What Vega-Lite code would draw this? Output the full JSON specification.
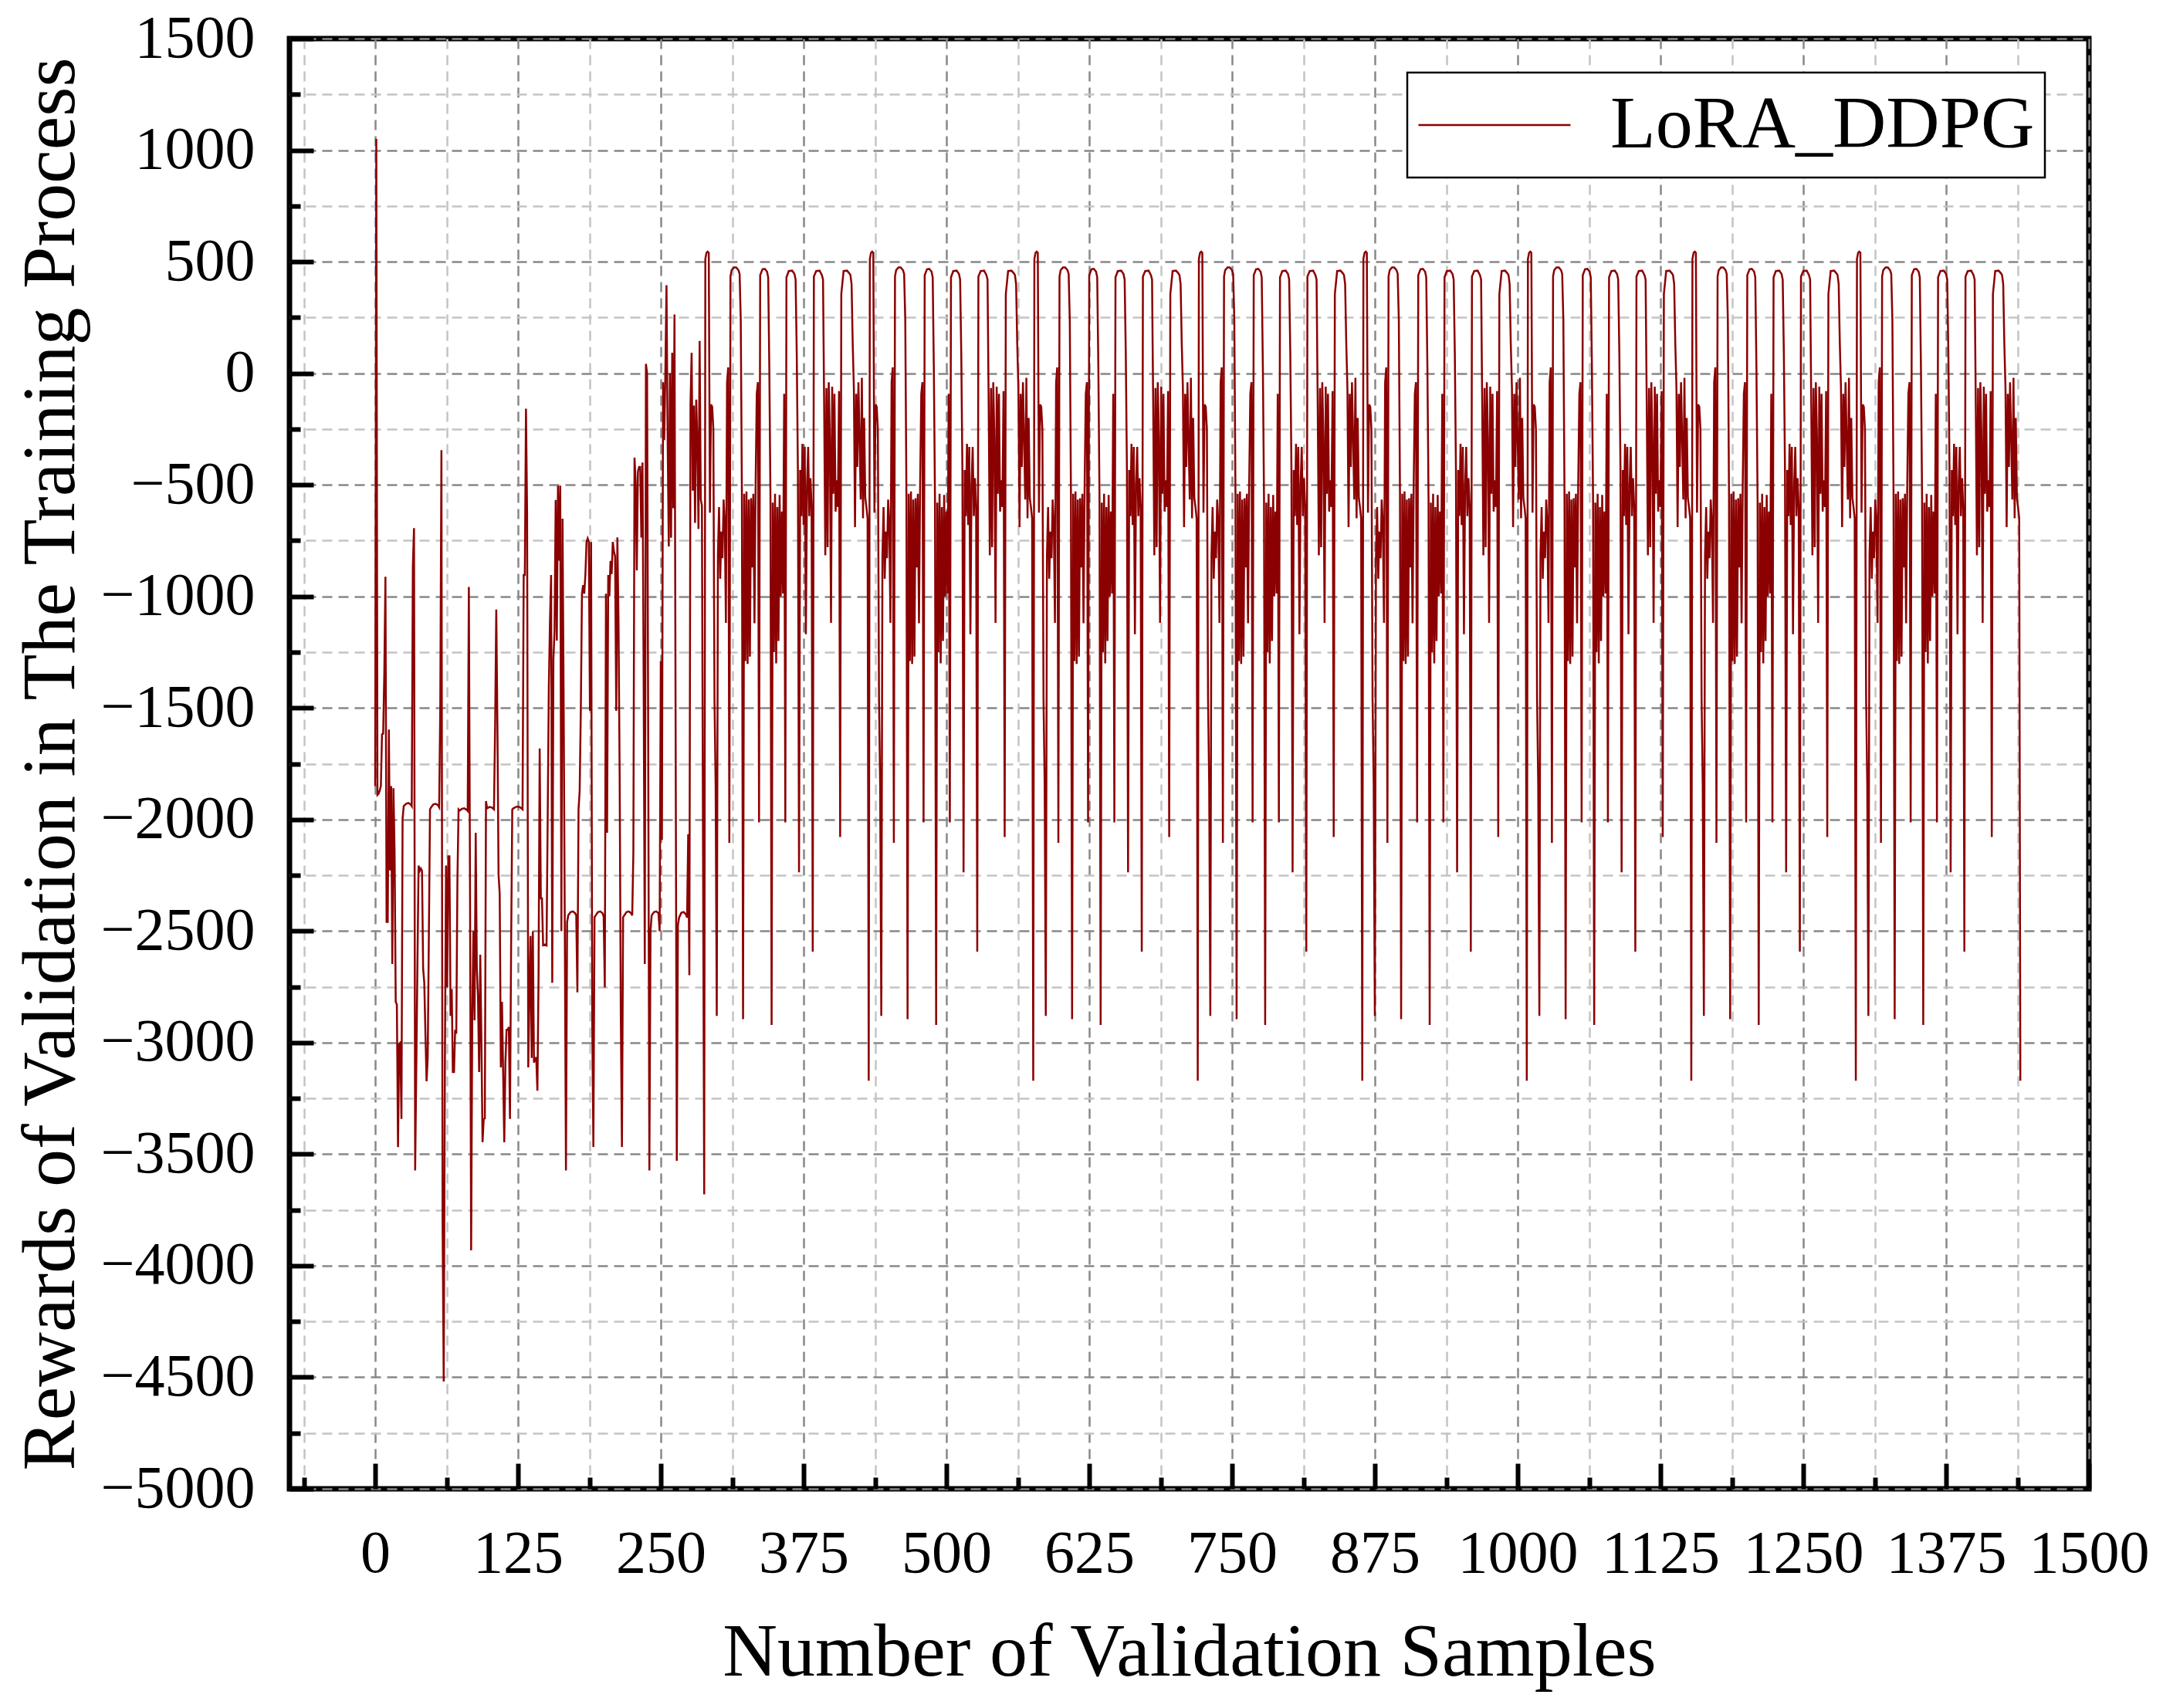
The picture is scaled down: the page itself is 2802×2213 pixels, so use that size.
{
  "$schema": "https://vega.github.io/schema/vega-lite/v6.json",
  "width": 2331,
  "height": 1879,
  "autosize": {"type": "none"},
  "padding": {"left": 375, "top": 50, "right": 96, "bottom": 284},
  "background": "white",
  "config": {
    "view": {"stroke": "black", "strokeWidth": 7},
    "axis": {
      "domain": false,
      "labelFont": "Liberation Serif",
      "labelFontSize": 78,
      "labelColor": "black",
      "labelLimit": 0,
      "titleFont": "Liberation Serif",
      "titleFontSize": 98,
      "titleFontWeight": "normal",
      "titleColor": "black",
      "tickColor": "black",
      "tickWidth": 6,
      "gridDash": [13, 8],
      "gridWidth": 2.5,
      "labelOverlap": false,
      "labelFlush": false
    },
    "legend": {"strokeWidth": 2.5}
  },
  "data": {
    "values": [
      {"n":0,"r":-1850},{"n":1,"r":1050},{"n":2,"r":-1890},{"n":3,"r":-1885},{"n":4,"r":-1870},{"n":5,"r":-1850},{"n":6,"r":-1618},{"n":7,"r":-1616},{"n":8,"r":-1345},{"n":9,"r":-912},{"n":10,"r":-2459},{"n":11,"r":-2459},{"n":12,"r":-1597},{"n":13,"r":-2228},{"n":14,"r":-1850},{"n":15,"r":-2648},{"n":16,"r":-1860},{"n":17,"r":-2144},{"n":18,"r":-2817},{"n":19,"r":-2830},{"n":20,"r":-3468},{"n":21,"r":-3006},{"n":22,"r":-3000},{"n":23,"r":-3342},{"n":24,"r":-1997},{"n":25,"r":-1940},{"n":27,"r":-1930},{"n":29,"r":-1926},{"n":31,"r":-1932},{"n":32,"r":-1940},{"n":33,"r":-862},{"n":34,"r":-694},{"n":35,"r":-3573},{"n":36,"r":-3110},{"n":37,"r":-2648},{"n":38,"r":-2207},{"n":39,"r":-2230},{"n":40,"r":-2220},{"n":41,"r":-2230},{"n":42,"r":-2670},{"n":43,"r":-2732},{"n":44,"r":-2963},{"n":45,"r":-3173},{"n":46,"r":-3069},{"n":47,"r":-2522},{"n":48,"r":-1955},{"n":49,"r":-1945},{"n":51,"r":-1932},{"n":53,"r":-1930},{"n":55,"r":-1936},{"n":56,"r":-1945},{"n":57,"r":-1492},{"n":58,"r":-345},{"n":59,"r":-3804},{"n":60,"r":-4519},{"n":61,"r":-3132},{"n":62,"r":-2207},{"n":63,"r":-2753},{"n":64,"r":-2165},{"n":65,"r":-2165},{"n":66,"r":-2880},{"n":67,"r":-2760},{"n":68,"r":-3132},{"n":69,"r":-3132},{"n":70,"r":-2943},{"n":71,"r":-2960},{"n":72,"r":-2270},{"n":73,"r":-1955},{"n":74,"r":-1960},{"n":76,"r":-1952},{"n":78,"r":-1950},{"n":80,"r":-1956},{"n":81,"r":-1962},{"n":82,"r":-958},{"n":83,"r":-2270},{"n":84,"r":-3931},{"n":85,"r":-2880},{"n":86,"r":-2501},{"n":87,"r":-2900},{"n":88,"r":-2060},{"n":89,"r":-2670},{"n":90,"r":-2796},{"n":91,"r":-3132},{"n":92,"r":-2606},{"n":93,"r":-3000},{"n":94,"r":-3447},{"n":95,"r":-3342},{"n":96,"r":-3340},{"n":97,"r":-1918},{"n":98,"r":-1950},{"n":100,"r":-1944},{"n":102,"r":-1946},{"n":104,"r":-1955},{"n":105,"r":-1576},{"n":106,"r":-1059},{"n":107,"r":-1576},{"n":108,"r":-2249},{"n":109,"r":-2333},{"n":110,"r":-3111},{"n":111,"r":-2817},{"n":112,"r":-3132},{"n":113,"r":-3447},{"n":114,"r":-3090},{"n":115,"r":-2943},{"n":116,"r":-2943},{"n":117,"r":-2930},{"n":118,"r":-3342},{"n":119,"r":-2564},{"n":120,"r":-1955},{"n":121,"r":-1950},{"n":123,"r":-1944},{"n":125,"r":-1942},{"n":127,"r":-1946},{"n":129,"r":-1955},{"n":130,"r":-904},{"n":131,"r":-904},{"n":132,"r":-159},{"n":133,"r":-631},{"n":134,"r":-3111},{"n":135,"r":-2800},{"n":136,"r":-2522},{"n":137,"r":-3069},{"n":138,"r":-2501},{"n":139,"r":-3090},{"n":140,"r":-3069},{"n":141,"r":-3069},{"n":142,"r":-3216},{"n":143,"r":-2711},{"n":144,"r":-1682},{"n":145,"r":-2354},{"n":146,"r":-2354},{"n":147,"r":-2564},{"n":149,"r":-2560},{"n":150,"r":-2564},{"n":151,"r":-1997},{"n":152,"r":-1408},{"n":153,"r":-1114},{"n":154,"r":-904},{"n":155,"r":-2732},{"n":156,"r":-1282},{"n":157,"r":-1156},{"n":158,"r":-568},{"n":159,"r":-1198},{"n":160,"r":-504},{"n":161,"r":-840},{"n":162,"r":-504},{"n":163,"r":-2501},{"n":164,"r":-652},{"n":165,"r":-1492},{"n":166,"r":-2501},{"n":167,"r":-3573},{"n":168,"r":-2460},{"n":169,"r":-2430},{"n":171,"r":-2415},{"n":173,"r":-2412},{"n":175,"r":-2420},{"n":176,"r":-2430},{"n":177,"r":-2775},{"n":178,"r":-1955},{"n":179,"r":-1871},{"n":180,"r":-1513},{"n":181,"r":-988},{"n":182,"r":-950},{"n":183,"r":-988},{"n":184,"r":-904},{"n":185,"r":-756},{"n":186,"r":-740},{"n":187,"r":-756},{"n":188,"r":-1513},{"n":189,"r":-756},{"n":190,"r":-2900},{"n":191,"r":-3468},{"n":192,"r":-2438},{"n":193,"r":-2430},{"n":195,"r":-2415},{"n":197,"r":-2412},{"n":199,"r":-2420},{"n":200,"r":-2435},{"n":201,"r":-2753},{"n":202,"r":-988},{"n":203,"r":-2060},{"n":204,"r":-904},{"n":205,"r":-1000},{"n":206,"r":-841},{"n":207,"r":-900},{"n":208,"r":-756},{"n":209,"r":-800},{"n":210,"r":-820},{"n":211,"r":-1513},{"n":212,"r":-736},{"n":213,"r":-1114},{"n":214,"r":-1808},{"n":215,"r":-2880},{"n":216,"r":-3468},{"n":217,"r":-2438},{"n":218,"r":-2430},{"n":220,"r":-2415},{"n":222,"r":-2412},{"n":224,"r":-2420},{"n":225,"r":-2430},{"n":226,"r":-2150},{"n":227,"r":-378},{"n":228,"r":-484},{"n":229,"r":-883},{"n":230,"r":-440},{"n":231,"r":-420},{"n":232,"r":-420},{"n":233,"r":-736},{"n":234,"r":-400},{"n":235,"r":-1366},{"n":236,"r":-2648},{"n":237,"r":42},{"n":238,"r":0},{"n":239,"r":-1660},{"n":240,"r":-3573},{"n":241,"r":-2501},{"n":242,"r":-2430},{"n":244,"r":-2415},{"n":246,"r":-2412},{"n":248,"r":-2420},{"n":249,"r":-2501},{"n":250,"r":-1290},{"n":251,"r":-2092},{"n":252,"r":-40},{"n":253,"r":-300},{"n":254,"r":0},{"n":255,"r":395},{"n":256,"r":-300},{"n":257,"r":-776},{"n":258,"r":0},{"n":259,"r":-737},{"n":260,"r":92},{"n":261,"r":-605},{"n":262,"r":263},{"n":263,"r":-1618},{"n":264,"r":-3530},{"n":265,"r":-2474},{"n":266,"r":-2440},{"n":268,"r":-2418},{"n":270,"r":-2415},{"n":272,"r":-2425},{"n":273,"r":-2440},{"n":274,"r":-2066},{"n":275,"r":-2698},{"n":276,"r":-145},{"n":277,"r":92},{"n":278,"r":-526},{"n":279,"r":-145},{"n":280,"r":-671},{"n":281,"r":-118},{"n":282,"r":-303},{"n":283,"r":-698},{"n":284,"r":145},{"n":285,"r":-566},{"n":286,"r":-592},{"n":287,"r":-2170},
      {"n":288,"r":-3680},{"n":289,"r":513},{"n":290,"r":540},{"n":291,"r":545},{"n":292,"r":540},{"n":293,"r":-625},{"n":294,"r":-140},{"n":295,"r":-150},{"n":296,"r":-250},{"n":297,"r":-1460},{"n":298,"r":-1842},{"n":299,"r":-2880},{"n":300,"r":-816},{"n":301,"r":-600},{"n":302,"r":-921},{"n":303,"r":-710},{"n":304,"r":-829},{"n":305,"r":-566},{"n":306,"r":-671},{"n":307,"r":-1119},{"n":308,"r":-40},{"n":309,"r":26},{"n":310,"r":-2105},{"n":311,"r":434},{"n":312,"r":462},{"n":314,"r":474},{"n":316,"r":474},{"n":318,"r":462},{"n":319,"r":445},{"n":320,"r":237},{"n":321,"r":-540},{"n":322,"r":-2895},{"n":323,"r":-540},{"n":324,"r":-1290},{"n":325,"r":-530},{"n":326,"r":-1303},{"n":327,"r":-566},{"n":328,"r":-1270},{"n":329,"r":-560},{"n":330,"r":-870},{"n":331,"r":-540},{"n":332,"r":-1120},{"n":333,"r":-500},{"n":334,"r":-92},{"n":335,"r":-40},{"n":336,"r":-2013},{"n":337,"r":440},{"n":339,"r":466},{"n":341,"r":468},{"n":343,"r":455},{"n":344,"r":430},{"n":345,"r":26},{"n":346,"r":-566},{"n":347,"r":-2921},{"n":348,"r":-580},{"n":349,"r":-1250},{"n":350,"r":-540},{"n":351,"r":-1300},{"n":352,"r":-600},{"n":353,"r":-1200},{"n":354,"r":-545},{"n":355,"r":-1000},{"n":356,"r":-620},{"n":357,"r":-987},{"n":358,"r":-92},{"n":359,"r":-2013},{"n":360,"r":430},{"n":362,"r":458},{"n":365,"r":460},{"n":367,"r":445},{"n":368,"r":420},{"n":369,"r":92},{"n":370,"r":-434},{"n":371,"r":-2237},{"n":372,"r":-434},{"n":373,"r":-640},{"n":374,"r":-316},{"n":375,"r":-680},{"n":376,"r":-330},{"n":377,"r":-1170},{"n":378,"r":-500},{"n":379,"r":-330},{"n":380,"r":-640},{"n":381,"r":-470},{"n":382,"r":-600},{"n":383,"r":-2592},{"n":384,"r":434},{"n":386,"r":458},{"n":389,"r":460},{"n":391,"r":440},{"n":392,"r":420},{"n":393,"r":-145},{"n":394,"r":-816},{"n":395,"r":-66},{"n":396,"r":-780},{"n":397,"r":-40},{"n":398,"r":-290},{"n":399,"r":-1119},{"n":400,"r":-60},{"n":401,"r":-540},{"n":402,"r":-92},{"n":403,"r":-620},{"n":404,"r":-480},{"n":405,"r":-600},{"n":406,"r":-80},{"n":407,"r":-2079},{"n":408,"r":355},{"n":410,"r":458},{"n":413,"r":460},{"n":415,"r":448},{"n":416,"r":440},{"n":417,"r":400},{"n":418,"r":131},{"n":419,"r":-66},{"n":420,"r":-690},{"n":421,"r":-92},{"n":422,"r":-420},{"n":423,"r":-40},{"n":424,"r":-300},{"n":425,"r":-566},{"n":426,"r":-20},{"n":427,"r":-650},{"n":428,"r":-200},{"n":429,"r":-560},{"n":430,"r":-600},{"n":431,"r":-650},
      {"n":432,"r":-3171},{"n":433,"r":513},{"n":434,"r":540},{"n":435,"r":545},{"n":436,"r":540},{"n":437,"r":-625},{"n":438,"r":-140},{"n":439,"r":-150},{"n":440,"r":-250},{"n":441,"r":-1460},{"n":442,"r":-1842},{"n":443,"r":-2880},{"n":444,"r":-816},{"n":445,"r":-600},{"n":446,"r":-921},{"n":447,"r":-710},{"n":448,"r":-829},{"n":449,"r":-566},{"n":450,"r":-671},{"n":451,"r":-1119},{"n":452,"r":-40},{"n":453,"r":26},{"n":454,"r":-2105},{"n":455,"r":434},{"n":456,"r":462},{"n":458,"r":474},{"n":460,"r":474},{"n":462,"r":462},{"n":463,"r":445},{"n":464,"r":237},{"n":465,"r":-540},{"n":466,"r":-2895},{"n":467,"r":-540},{"n":468,"r":-1290},{"n":469,"r":-530},{"n":470,"r":-1303},{"n":471,"r":-566},{"n":472,"r":-1270},{"n":473,"r":-560},{"n":474,"r":-870},{"n":475,"r":-540},{"n":476,"r":-1120},{"n":477,"r":-500},{"n":478,"r":-92},{"n":479,"r":-40},{"n":480,"r":-2013},{"n":481,"r":440},{"n":483,"r":466},{"n":485,"r":468},{"n":487,"r":455},{"n":488,"r":430},{"n":489,"r":26},{"n":490,"r":-566},{"n":491,"r":-2921},{"n":492,"r":-580},{"n":493,"r":-1250},{"n":494,"r":-540},{"n":495,"r":-1300},{"n":496,"r":-600},{"n":497,"r":-1200},{"n":498,"r":-545},{"n":499,"r":-1000},{"n":500,"r":-620},{"n":501,"r":-987},{"n":502,"r":-92},{"n":503,"r":-2013},{"n":504,"r":430},{"n":506,"r":458},{"n":509,"r":460},{"n":511,"r":445},{"n":512,"r":420},{"n":513,"r":92},{"n":514,"r":-434},{"n":515,"r":-2237},{"n":516,"r":-434},{"n":517,"r":-640},{"n":518,"r":-316},{"n":519,"r":-680},{"n":520,"r":-330},{"n":521,"r":-1170},{"n":522,"r":-500},{"n":523,"r":-330},{"n":524,"r":-640},{"n":525,"r":-470},{"n":526,"r":-600},{"n":527,"r":-2592},{"n":528,"r":434},{"n":530,"r":458},{"n":533,"r":460},{"n":535,"r":440},{"n":536,"r":420},{"n":537,"r":-145},{"n":538,"r":-816},{"n":539,"r":-66},{"n":540,"r":-780},{"n":541,"r":-40},{"n":542,"r":-290},{"n":543,"r":-1119},{"n":544,"r":-60},{"n":545,"r":-540},{"n":546,"r":-92},{"n":547,"r":-620},{"n":548,"r":-480},{"n":549,"r":-600},{"n":550,"r":-80},{"n":551,"r":-2079},{"n":552,"r":355},{"n":554,"r":458},{"n":557,"r":460},{"n":559,"r":448},{"n":560,"r":440},{"n":561,"r":400},{"n":562,"r":131},{"n":563,"r":-66},{"n":564,"r":-690},{"n":565,"r":-92},{"n":566,"r":-420},{"n":567,"r":-40},{"n":568,"r":-300},{"n":569,"r":-566},{"n":570,"r":-20},{"n":571,"r":-650},{"n":572,"r":-200},{"n":573,"r":-560},{"n":574,"r":-600},{"n":575,"r":-650},
      {"n":576,"r":-3171},{"n":577,"r":513},{"n":578,"r":540},{"n":579,"r":545},{"n":580,"r":540},{"n":581,"r":-625},{"n":582,"r":-140},{"n":583,"r":-150},{"n":584,"r":-250},{"n":585,"r":-1460},{"n":586,"r":-1842},{"n":587,"r":-2880},{"n":588,"r":-816},{"n":589,"r":-600},{"n":590,"r":-921},{"n":591,"r":-710},{"n":592,"r":-829},{"n":593,"r":-566},{"n":594,"r":-671},{"n":595,"r":-1119},{"n":596,"r":-40},{"n":597,"r":26},{"n":598,"r":-2105},{"n":599,"r":434},{"n":600,"r":462},{"n":602,"r":474},{"n":604,"r":474},{"n":606,"r":462},{"n":607,"r":445},{"n":608,"r":237},{"n":609,"r":-540},{"n":610,"r":-2895},{"n":611,"r":-540},{"n":612,"r":-1290},{"n":613,"r":-530},{"n":614,"r":-1303},{"n":615,"r":-566},{"n":616,"r":-1270},{"n":617,"r":-560},{"n":618,"r":-870},{"n":619,"r":-540},{"n":620,"r":-1120},{"n":621,"r":-500},{"n":622,"r":-92},{"n":623,"r":-40},{"n":624,"r":-2013},{"n":625,"r":440},{"n":627,"r":466},{"n":629,"r":468},{"n":631,"r":455},{"n":632,"r":430},{"n":633,"r":26},{"n":634,"r":-566},{"n":635,"r":-2921},{"n":636,"r":-580},{"n":637,"r":-1250},{"n":638,"r":-540},{"n":639,"r":-1300},{"n":640,"r":-600},{"n":641,"r":-1200},{"n":642,"r":-545},{"n":643,"r":-1000},{"n":644,"r":-620},{"n":645,"r":-987},{"n":646,"r":-92},{"n":647,"r":-2013},{"n":648,"r":430},{"n":650,"r":458},{"n":653,"r":460},{"n":655,"r":445},{"n":656,"r":420},{"n":657,"r":92},{"n":658,"r":-434},{"n":659,"r":-2237},{"n":660,"r":-434},{"n":661,"r":-640},{"n":662,"r":-316},{"n":663,"r":-680},{"n":664,"r":-330},{"n":665,"r":-1170},{"n":666,"r":-500},{"n":667,"r":-330},{"n":668,"r":-640},{"n":669,"r":-470},{"n":670,"r":-600},{"n":671,"r":-2592},{"n":672,"r":434},{"n":674,"r":458},{"n":677,"r":460},{"n":679,"r":440},{"n":680,"r":420},{"n":681,"r":-145},{"n":682,"r":-816},{"n":683,"r":-66},{"n":684,"r":-780},{"n":685,"r":-40},{"n":686,"r":-290},{"n":687,"r":-1119},{"n":688,"r":-60},{"n":689,"r":-540},{"n":690,"r":-92},{"n":691,"r":-620},{"n":692,"r":-480},{"n":693,"r":-600},{"n":694,"r":-80},{"n":695,"r":-2079},{"n":696,"r":355},{"n":698,"r":458},{"n":701,"r":460},{"n":703,"r":448},{"n":704,"r":440},{"n":705,"r":400},{"n":706,"r":131},{"n":707,"r":-66},{"n":708,"r":-690},{"n":709,"r":-92},{"n":710,"r":-420},{"n":711,"r":-40},{"n":712,"r":-300},{"n":713,"r":-566},{"n":714,"r":-20},{"n":715,"r":-650},{"n":716,"r":-200},{"n":717,"r":-560},{"n":718,"r":-600},{"n":719,"r":-650},
      {"n":720,"r":-3171},{"n":721,"r":513},{"n":722,"r":540},{"n":723,"r":545},{"n":724,"r":540},{"n":725,"r":-625},{"n":726,"r":-140},{"n":727,"r":-150},{"n":728,"r":-250},{"n":729,"r":-1460},{"n":730,"r":-1842},{"n":731,"r":-2880},{"n":732,"r":-816},{"n":733,"r":-600},{"n":734,"r":-921},{"n":735,"r":-710},{"n":736,"r":-829},{"n":737,"r":-566},{"n":738,"r":-671},{"n":739,"r":-1119},{"n":740,"r":-40},{"n":741,"r":26},{"n":742,"r":-2105},{"n":743,"r":434},{"n":744,"r":462},{"n":746,"r":474},{"n":748,"r":474},{"n":750,"r":462},{"n":751,"r":445},{"n":752,"r":237},{"n":753,"r":-540},{"n":754,"r":-2895},{"n":755,"r":-540},{"n":756,"r":-1290},{"n":757,"r":-530},{"n":758,"r":-1303},{"n":759,"r":-566},{"n":760,"r":-1270},{"n":761,"r":-560},{"n":762,"r":-870},{"n":763,"r":-540},{"n":764,"r":-1120},{"n":765,"r":-500},{"n":766,"r":-92},{"n":767,"r":-40},{"n":768,"r":-2013},{"n":769,"r":440},{"n":771,"r":466},{"n":773,"r":468},{"n":775,"r":455},{"n":776,"r":430},{"n":777,"r":26},{"n":778,"r":-566},{"n":779,"r":-2921},{"n":780,"r":-580},{"n":781,"r":-1250},{"n":782,"r":-540},{"n":783,"r":-1300},{"n":784,"r":-600},{"n":785,"r":-1200},{"n":786,"r":-545},{"n":787,"r":-1000},{"n":788,"r":-620},{"n":789,"r":-987},{"n":790,"r":-92},{"n":791,"r":-2013},{"n":792,"r":430},{"n":794,"r":458},{"n":797,"r":460},{"n":799,"r":445},{"n":800,"r":420},{"n":801,"r":92},{"n":802,"r":-434},{"n":803,"r":-2237},{"n":804,"r":-434},{"n":805,"r":-640},{"n":806,"r":-316},{"n":807,"r":-680},{"n":808,"r":-330},{"n":809,"r":-1170},{"n":810,"r":-500},{"n":811,"r":-330},{"n":812,"r":-640},{"n":813,"r":-470},{"n":814,"r":-600},{"n":815,"r":-2592},{"n":816,"r":434},{"n":818,"r":458},{"n":821,"r":460},{"n":823,"r":440},{"n":824,"r":420},{"n":825,"r":-145},{"n":826,"r":-816},{"n":827,"r":-66},{"n":828,"r":-780},{"n":829,"r":-40},{"n":830,"r":-290},{"n":831,"r":-1119},{"n":832,"r":-60},{"n":833,"r":-540},{"n":834,"r":-92},{"n":835,"r":-620},{"n":836,"r":-480},{"n":837,"r":-600},{"n":838,"r":-80},{"n":839,"r":-2079},{"n":840,"r":355},{"n":842,"r":458},{"n":845,"r":460},{"n":847,"r":448},{"n":848,"r":440},{"n":849,"r":400},{"n":850,"r":131},{"n":851,"r":-66},{"n":852,"r":-690},{"n":853,"r":-92},{"n":854,"r":-420},{"n":855,"r":-40},{"n":856,"r":-300},{"n":857,"r":-566},{"n":858,"r":-20},{"n":859,"r":-650},{"n":860,"r":-200},{"n":861,"r":-560},{"n":862,"r":-600},{"n":863,"r":-650},
      {"n":864,"r":-3171},{"n":865,"r":513},{"n":866,"r":540},{"n":867,"r":545},{"n":868,"r":540},{"n":869,"r":-625},{"n":870,"r":-140},{"n":871,"r":-150},{"n":872,"r":-250},{"n":873,"r":-1460},{"n":874,"r":-1842},{"n":875,"r":-2880},{"n":876,"r":-816},{"n":877,"r":-600},{"n":878,"r":-921},{"n":879,"r":-710},{"n":880,"r":-829},{"n":881,"r":-566},{"n":882,"r":-671},{"n":883,"r":-1119},{"n":884,"r":-40},{"n":885,"r":26},{"n":886,"r":-2105},{"n":887,"r":434},{"n":888,"r":462},{"n":890,"r":474},{"n":892,"r":474},{"n":894,"r":462},{"n":895,"r":445},{"n":896,"r":237},{"n":897,"r":-540},{"n":898,"r":-2895},{"n":899,"r":-540},{"n":900,"r":-1290},{"n":901,"r":-530},{"n":902,"r":-1303},{"n":903,"r":-566},{"n":904,"r":-1270},{"n":905,"r":-560},{"n":906,"r":-870},{"n":907,"r":-540},{"n":908,"r":-1120},{"n":909,"r":-500},{"n":910,"r":-92},{"n":911,"r":-40},{"n":912,"r":-2013},{"n":913,"r":440},{"n":915,"r":466},{"n":917,"r":468},{"n":919,"r":455},{"n":920,"r":430},{"n":921,"r":26},{"n":922,"r":-566},{"n":923,"r":-2921},{"n":924,"r":-580},{"n":925,"r":-1250},{"n":926,"r":-540},{"n":927,"r":-1300},{"n":928,"r":-600},{"n":929,"r":-1200},{"n":930,"r":-545},{"n":931,"r":-1000},{"n":932,"r":-620},{"n":933,"r":-987},{"n":934,"r":-92},{"n":935,"r":-2013},{"n":936,"r":430},{"n":938,"r":458},{"n":941,"r":460},{"n":943,"r":445},{"n":944,"r":420},{"n":945,"r":92},{"n":946,"r":-434},{"n":947,"r":-2237},{"n":948,"r":-434},{"n":949,"r":-640},{"n":950,"r":-316},{"n":951,"r":-680},{"n":952,"r":-330},{"n":953,"r":-1170},{"n":954,"r":-500},{"n":955,"r":-330},{"n":956,"r":-640},{"n":957,"r":-470},{"n":958,"r":-600},{"n":959,"r":-2592},{"n":960,"r":434},{"n":962,"r":458},{"n":965,"r":460},{"n":967,"r":440},{"n":968,"r":420},{"n":969,"r":-145},{"n":970,"r":-816},{"n":971,"r":-66},{"n":972,"r":-780},{"n":973,"r":-40},{"n":974,"r":-290},{"n":975,"r":-1119},{"n":976,"r":-60},{"n":977,"r":-540},{"n":978,"r":-92},{"n":979,"r":-620},{"n":980,"r":-480},{"n":981,"r":-600},{"n":982,"r":-80},{"n":983,"r":-2079},{"n":984,"r":355},{"n":986,"r":458},{"n":989,"r":460},{"n":991,"r":448},{"n":992,"r":440},{"n":993,"r":400},{"n":994,"r":131},{"n":995,"r":-66},{"n":996,"r":-690},{"n":997,"r":-92},{"n":998,"r":-420},{"n":999,"r":-40},{"n":1000,"r":-300},{"n":1001,"r":-566},{"n":1002,"r":-20},{"n":1003,"r":-650},{"n":1004,"r":-200},{"n":1005,"r":-560},{"n":1006,"r":-600},{"n":1007,"r":-650},
      {"n":1008,"r":-3171},{"n":1009,"r":513},{"n":1010,"r":540},{"n":1011,"r":545},{"n":1012,"r":540},{"n":1013,"r":-625},{"n":1014,"r":-140},{"n":1015,"r":-150},{"n":1016,"r":-250},{"n":1017,"r":-1460},{"n":1018,"r":-1842},{"n":1019,"r":-2880},{"n":1020,"r":-816},{"n":1021,"r":-600},{"n":1022,"r":-921},{"n":1023,"r":-710},{"n":1024,"r":-829},{"n":1025,"r":-566},{"n":1026,"r":-671},{"n":1027,"r":-1119},{"n":1028,"r":-40},{"n":1029,"r":26},{"n":1030,"r":-2105},{"n":1031,"r":434},{"n":1032,"r":462},{"n":1034,"r":474},{"n":1036,"r":474},{"n":1038,"r":462},{"n":1039,"r":445},{"n":1040,"r":237},{"n":1041,"r":-540},{"n":1042,"r":-2895},{"n":1043,"r":-540},{"n":1044,"r":-1290},{"n":1045,"r":-530},{"n":1046,"r":-1303},{"n":1047,"r":-566},{"n":1048,"r":-1270},{"n":1049,"r":-560},{"n":1050,"r":-870},{"n":1051,"r":-540},{"n":1052,"r":-1120},{"n":1053,"r":-500},{"n":1054,"r":-92},{"n":1055,"r":-40},{"n":1056,"r":-2013},{"n":1057,"r":440},{"n":1059,"r":466},{"n":1061,"r":468},{"n":1063,"r":455},{"n":1064,"r":430},{"n":1065,"r":26},{"n":1066,"r":-566},{"n":1067,"r":-2921},{"n":1068,"r":-580},{"n":1069,"r":-1250},{"n":1070,"r":-540},{"n":1071,"r":-1300},{"n":1072,"r":-600},{"n":1073,"r":-1200},{"n":1074,"r":-545},{"n":1075,"r":-1000},{"n":1076,"r":-620},{"n":1077,"r":-987},{"n":1078,"r":-92},{"n":1079,"r":-2013},{"n":1080,"r":430},{"n":1082,"r":458},{"n":1085,"r":460},{"n":1087,"r":445},{"n":1088,"r":420},{"n":1089,"r":92},{"n":1090,"r":-434},{"n":1091,"r":-2237},{"n":1092,"r":-434},{"n":1093,"r":-640},{"n":1094,"r":-316},{"n":1095,"r":-680},{"n":1096,"r":-330},{"n":1097,"r":-1170},{"n":1098,"r":-500},{"n":1099,"r":-330},{"n":1100,"r":-640},{"n":1101,"r":-470},{"n":1102,"r":-600},{"n":1103,"r":-2592},{"n":1104,"r":434},{"n":1106,"r":458},{"n":1109,"r":460},{"n":1111,"r":440},{"n":1112,"r":420},{"n":1113,"r":-145},{"n":1114,"r":-816},{"n":1115,"r":-66},{"n":1116,"r":-780},{"n":1117,"r":-40},{"n":1118,"r":-290},{"n":1119,"r":-1119},{"n":1120,"r":-60},{"n":1121,"r":-540},{"n":1122,"r":-92},{"n":1123,"r":-620},{"n":1124,"r":-480},{"n":1125,"r":-600},{"n":1126,"r":-80},{"n":1127,"r":-2079},{"n":1128,"r":355},{"n":1130,"r":458},{"n":1133,"r":460},{"n":1135,"r":448},{"n":1136,"r":440},{"n":1137,"r":400},{"n":1138,"r":131},{"n":1139,"r":-66},{"n":1140,"r":-690},{"n":1141,"r":-92},{"n":1142,"r":-420},{"n":1143,"r":-40},{"n":1144,"r":-300},{"n":1145,"r":-566},{"n":1146,"r":-20},{"n":1147,"r":-650},{"n":1148,"r":-200},{"n":1149,"r":-560},{"n":1150,"r":-600},{"n":1151,"r":-650},
      {"n":1152,"r":-3171},{"n":1153,"r":513},{"n":1154,"r":540},{"n":1155,"r":545},{"n":1156,"r":540},{"n":1157,"r":-625},{"n":1158,"r":-140},{"n":1159,"r":-150},{"n":1160,"r":-250},{"n":1161,"r":-1460},{"n":1162,"r":-1842},{"n":1163,"r":-2880},{"n":1164,"r":-816},{"n":1165,"r":-600},{"n":1166,"r":-921},{"n":1167,"r":-710},{"n":1168,"r":-829},{"n":1169,"r":-566},{"n":1170,"r":-671},{"n":1171,"r":-1119},{"n":1172,"r":-40},{"n":1173,"r":26},{"n":1174,"r":-2105},{"n":1175,"r":434},{"n":1176,"r":462},{"n":1178,"r":474},{"n":1180,"r":474},{"n":1182,"r":462},{"n":1183,"r":445},{"n":1184,"r":237},{"n":1185,"r":-540},{"n":1186,"r":-2895},{"n":1187,"r":-540},{"n":1188,"r":-1290},{"n":1189,"r":-530},{"n":1190,"r":-1303},{"n":1191,"r":-566},{"n":1192,"r":-1270},{"n":1193,"r":-560},{"n":1194,"r":-870},{"n":1195,"r":-540},{"n":1196,"r":-1120},{"n":1197,"r":-500},{"n":1198,"r":-92},{"n":1199,"r":-40},{"n":1200,"r":-2013},{"n":1201,"r":440},{"n":1203,"r":466},{"n":1205,"r":468},{"n":1207,"r":455},{"n":1208,"r":430},{"n":1209,"r":26},{"n":1210,"r":-566},{"n":1211,"r":-2921},{"n":1212,"r":-580},{"n":1213,"r":-1250},{"n":1214,"r":-540},{"n":1215,"r":-1300},{"n":1216,"r":-600},{"n":1217,"r":-1200},{"n":1218,"r":-545},{"n":1219,"r":-1000},{"n":1220,"r":-620},{"n":1221,"r":-987},{"n":1222,"r":-92},{"n":1223,"r":-2013},{"n":1224,"r":430},{"n":1226,"r":458},{"n":1229,"r":460},{"n":1231,"r":445},{"n":1232,"r":420},{"n":1233,"r":92},{"n":1234,"r":-434},{"n":1235,"r":-2237},{"n":1236,"r":-434},{"n":1237,"r":-640},{"n":1238,"r":-316},{"n":1239,"r":-680},{"n":1240,"r":-330},{"n":1241,"r":-1170},{"n":1242,"r":-500},{"n":1243,"r":-330},{"n":1244,"r":-640},{"n":1245,"r":-470},{"n":1246,"r":-600},{"n":1247,"r":-2592},{"n":1248,"r":434},{"n":1250,"r":458},{"n":1253,"r":460},{"n":1255,"r":440},{"n":1256,"r":420},{"n":1257,"r":-145},{"n":1258,"r":-816},{"n":1259,"r":-66},{"n":1260,"r":-780},{"n":1261,"r":-40},{"n":1262,"r":-290},{"n":1263,"r":-1119},{"n":1264,"r":-60},{"n":1265,"r":-540},{"n":1266,"r":-92},{"n":1267,"r":-620},{"n":1268,"r":-480},{"n":1269,"r":-600},{"n":1270,"r":-80},{"n":1271,"r":-2079},{"n":1272,"r":355},{"n":1274,"r":458},{"n":1277,"r":460},{"n":1279,"r":448},{"n":1280,"r":440},{"n":1281,"r":400},{"n":1282,"r":131},{"n":1283,"r":-66},{"n":1284,"r":-690},{"n":1285,"r":-92},{"n":1286,"r":-420},{"n":1287,"r":-40},{"n":1288,"r":-300},{"n":1289,"r":-566},{"n":1290,"r":-20},{"n":1291,"r":-650},{"n":1292,"r":-200},{"n":1293,"r":-560},{"n":1294,"r":-600},{"n":1295,"r":-650},
      {"n":1296,"r":-3171},{"n":1297,"r":513},{"n":1298,"r":540},{"n":1299,"r":545},{"n":1300,"r":540},{"n":1301,"r":-625},{"n":1302,"r":-140},{"n":1303,"r":-150},{"n":1304,"r":-250},{"n":1305,"r":-1460},{"n":1306,"r":-1842},{"n":1307,"r":-2880},{"n":1308,"r":-816},{"n":1309,"r":-600},{"n":1310,"r":-921},{"n":1311,"r":-710},{"n":1312,"r":-829},{"n":1313,"r":-566},{"n":1314,"r":-671},{"n":1315,"r":-1119},{"n":1316,"r":-40},{"n":1317,"r":26},{"n":1318,"r":-2105},{"n":1319,"r":434},{"n":1320,"r":462},{"n":1322,"r":474},{"n":1324,"r":474},{"n":1326,"r":462},{"n":1327,"r":445},{"n":1328,"r":237},{"n":1329,"r":-540},{"n":1330,"r":-2895},{"n":1331,"r":-540},{"n":1332,"r":-1290},{"n":1333,"r":-530},{"n":1334,"r":-1303},{"n":1335,"r":-566},{"n":1336,"r":-1270},{"n":1337,"r":-560},{"n":1338,"r":-870},{"n":1339,"r":-540},{"n":1340,"r":-1120},{"n":1341,"r":-500},{"n":1342,"r":-92},{"n":1343,"r":-40},{"n":1344,"r":-2013},{"n":1345,"r":440},{"n":1347,"r":466},{"n":1349,"r":468},{"n":1351,"r":455},{"n":1352,"r":430},{"n":1353,"r":26},{"n":1354,"r":-566},{"n":1355,"r":-2921},{"n":1356,"r":-580},{"n":1357,"r":-1250},{"n":1358,"r":-540},{"n":1359,"r":-1300},{"n":1360,"r":-600},{"n":1361,"r":-1200},{"n":1362,"r":-545},{"n":1363,"r":-1000},{"n":1364,"r":-620},{"n":1365,"r":-987},{"n":1366,"r":-92},{"n":1367,"r":-2013},{"n":1368,"r":430},{"n":1370,"r":458},{"n":1373,"r":460},{"n":1375,"r":445},{"n":1376,"r":420},{"n":1377,"r":92},{"n":1378,"r":-434},{"n":1379,"r":-2237},{"n":1380,"r":-434},{"n":1381,"r":-640},{"n":1382,"r":-316},{"n":1383,"r":-680},{"n":1384,"r":-330},{"n":1385,"r":-1170},{"n":1386,"r":-500},{"n":1387,"r":-330},{"n":1388,"r":-640},{"n":1389,"r":-470},{"n":1390,"r":-600},{"n":1391,"r":-2592},{"n":1392,"r":434},{"n":1394,"r":458},{"n":1397,"r":460},{"n":1399,"r":440},{"n":1400,"r":420},{"n":1401,"r":-145},{"n":1402,"r":-816},{"n":1403,"r":-66},{"n":1404,"r":-780},{"n":1405,"r":-40},{"n":1406,"r":-290},{"n":1407,"r":-1119},{"n":1408,"r":-60},{"n":1409,"r":-540},{"n":1410,"r":-92},{"n":1411,"r":-620},{"n":1412,"r":-480},{"n":1413,"r":-600},{"n":1414,"r":-80},{"n":1415,"r":-2079},{"n":1416,"r":355},{"n":1418,"r":458},{"n":1421,"r":460},{"n":1423,"r":448},{"n":1424,"r":440},{"n":1425,"r":400},{"n":1426,"r":131},{"n":1427,"r":-66},{"n":1428,"r":-690},{"n":1429,"r":-92},{"n":1430,"r":-420},{"n":1431,"r":-40},{"n":1432,"r":-300},{"n":1433,"r":-566},{"n":1434,"r":-20},{"n":1435,"r":-650},{"n":1436,"r":-200},{"n":1437,"r":-560},{"n":1438,"r":-600},{"n":1439,"r":-650},{"n":1440,"r":-3171}
    ]
  },
  "mark": {"type": "line", "strokeWidth": 2.5},
  "encoding": {
    "x": {
      "field": "n",
      "type": "quantitative",
      "scale": {"domain": [-75, 1500], "nice": false, "zero": false},
      "axis": {
        "title": "Number of Validation Samples",
        "titleY": 241,
        "titleBaseline": "alphabetic",
        "labelPadding": 78,
        "format": "d",
        "values": [-62.5, 0, 62.5, 125, 187.5, 250, 312.5, 375, 437.5, 500, 562.5, 625, 687.5, 750, 812.5, 875, 937.5, 1000, 1062.5, 1125, 1187.5, 1250, 1312.5, 1375, 1437.5, 1500],
        "labelExpr": "datum.value % 125 === 0 ? datum.label : ''",
        "tickSize": {"condition": {"test": "datum.value % 125 === 0", "value": -33}, "value": -15},
        "gridColor": {"condition": {"test": "datum.value % 125 === 0", "value": "#888888"}, "value": "#c4c4c4"}
      }
    },
    "y": {
      "field": "r",
      "type": "quantitative",
      "scale": {"domain": [-5000, 1500], "nice": false, "zero": false},
      "axis": {
        "title": "Rewards of Validation in The Training Process",
        "titleAngle": 270,
        "titleX": -280,
        "titleY": 939.5,
        "titleAlign": "center",
        "titleBaseline": "alphabetic",
        "labelPadding": 76,
        "format": "d",
        "values": [-5000, -4750, -4500, -4250, -4000, -3750, -3500, -3250, -3000, -2750, -2500, -2250, -2000, -1750, -1500, -1250, -1000, -750, -500, -250, 0, 250, 500, 750, 1000, 1250, 1500],
        "labelExpr": "datum.value % 500 === 0 ? datum.label : ''",
        "tickSize": {"condition": {"test": "datum.value % 500 === 0", "value": -31}, "value": -14},
        "gridColor": {"condition": {"test": "datum.value % 500 === 0", "value": "#888888"}, "value": "#c4c4c4"}
      }
    },
    "color": {
      "datum": "LoRA_DDPG",
      "type": "nominal",
      "scale": {"range": ["#8B0000"]},
      "legend": {
        "orient": "none",
        "legendX": 1448,
        "legendY": 44,
        "title": null,
        "symbolType": "stroke",
        "symbolSize": 38809,
        "symbolStrokeWidth": 2.5,
        "clipHeight": 110,
        "labelFont": "Liberation Serif",
        "labelFontSize": 96,
        "labelColor": "black",
        "labelOffset": 50,
        "labelLimit": 0,
        "strokeColor": "black",
        "fillColor": "white",
        "padding": 13
      }
    }
  }
}
